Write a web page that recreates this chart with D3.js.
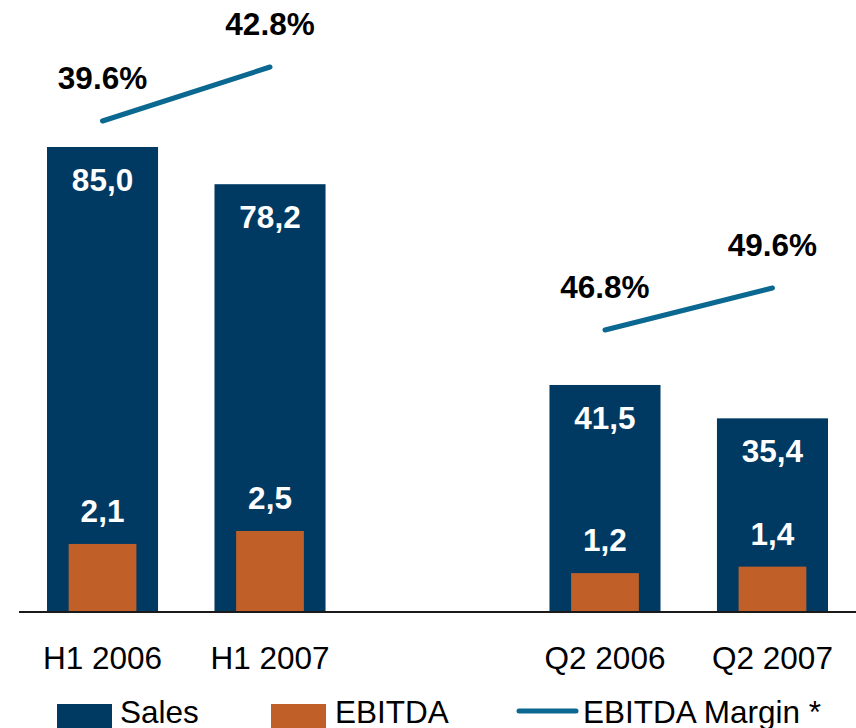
<!DOCTYPE html>
<html>
<head>
<meta charset="utf-8">
<script src="https://cdn.jsdelivr.net/npm/d3@7"></script>
<style>
  body { margin: 0; background: #fff; }
  svg { display: block; font-family: "Liberation Sans", Arial, sans-serif; }
</style>
</head>
<body>
<svg id="chart"></svg>
<script>
// Data
const categories = ["H1 2006", "H1 2007", "Q2 2006", "Q2 2007"];
const groups = ["H1", "H1", "Q2", "Q2"];
const sales = [85.0, 78.2, 41.5, 35.4];
const ebitda = [2.1, 2.5, 1.2, 1.4];
const margin = [39.6, 42.8, 46.8, 49.6];
const legendLabels = ["Sales", "EBITDA", "EBITDA Margin *"];

const width = 856;
const height = 728;
const base = 612;
const navy = "#003a62", orange = "#c05f28", teal = "#0b6890";

const fmt = v => d3.format(".1f")(v).replace(".", ",");

const data = categories.map((c, i) => ({
    cat: c, group: groups[i], sales: sales[i], ebitda: ebitda[i], margin: margin[i]
}));

// one empty slot between the half-year and the quarter
const slots = [categories[0], categories[1], "gap", categories[2], categories[3]];
const x = d3.scaleBand()
    .domain(slots)
    .range([47, 828])
    .paddingInner(0.337)
    .paddingOuter(0);

const ySales = d3.scaleLinear().domain([0, 85]).range([base, 147]);
const yEbitda = d3.scaleLinear().domain([0, 2.5]).range([base, 531]);
// each group has its own margin line
const yMargin = {
    H1: d3.scaleLinear().domain([39.6, 42.8]).range([121, 67]),
    Q2: d3.scaleLinear().domain([46.8, 49.6]).range([330, 288])
};

const svg = d3.select("#chart")
    .attr("width", width)
    .attr("height", height)
    .attr("viewBox", [0, 0, width, height]);

const bw = x.bandwidth();
const ew = bw * 0.61;
const cx = d => x(d.cat) + bw / 2;

// sales bars
svg.append("g")
    .selectAll("rect")
    .data(data)
    .join("rect")
    .attr("x", d => x(d.cat))
    .attr("y", d => ySales(d.sales))
    .attr("width", bw)
    .attr("height", d => base - ySales(d.sales))
    .attr("fill", navy);

// ebitda bars
svg.append("g")
    .selectAll("rect")
    .data(data)
    .join("rect")
    .attr("x", d => cx(d) - ew / 2)
    .attr("y", d => yEbitda(d.ebitda))
    .attr("width", ew)
    .attr("height", d => base - yEbitda(d.ebitda))
    .attr("fill", orange);

// value labels
const labels = svg.append("g")
    .attr("font-size", 31.5)
    .attr("font-weight", "bold")
    .attr("text-anchor", "middle");

labels.selectAll(".sales")
    .data(data)
    .join("text")
    .attr("x", cx)
    .attr("y", d => ySales(d.sales) + 44)
    .attr("fill", "#fff")
    .text(d => fmt(d.sales));

labels.selectAll(".ebitda")
    .data(data)
    .join("text")
    .attr("x", cx)
    .attr("y", d => yEbitda(d.ebitda) - 22)
    .attr("fill", "#fff")
    .text(d => fmt(d.ebitda));

// margin lines
const line = d3.line()
    .x(cx)
    .y(d => yMargin[d.group](d.margin));

svg.append("g")
    .selectAll("path")
    .data(d3.groups(data, d => d.group))
    .join("path")
    .attr("d", ([, v]) => line(v))
    .attr("fill", "none")
    .attr("stroke", teal)
    .attr("stroke-width", 5)
    .attr("stroke-linecap", "round");

labels.selectAll(".margin")
    .data(data)
    .join("text")
    .attr("x", cx)
    .attr("y", d => yMargin[d.group](d.margin) - 32)
    .attr("fill", "#000")
    .text(d => d.margin.toFixed(1) + "%");

// baseline
svg.append("line")
    .attr("x1", 19)
    .attr("x2", width)
    .attr("y1", base)
    .attr("y2", base)
    .attr("stroke", "#1a1a1a")
    .attr("stroke-width", 2);

// category axis
const xAxis = g => g
    .attr("transform", `translate(0,${base})`)
    .call(d3.axisBottom(x).tickValues(categories).tickSize(0).tickPadding(0))
    .call(g => g.select(".domain").remove())
    .call(g => g.selectAll("text")
        .attr("dy", 0)
        .attr("y", 57)
        .attr("font-size", 31.5)
        .attr("font-family", "Liberation Sans, Arial, sans-serif")
        .attr("fill", "#000"));

svg.append("g").call(xAxis);

// legend
const legend = svg.append("g").attr("font-size", 31.5).attr("fill", "#000");
legend.append("rect").attr("x", 57).attr("y", 704).attr("width", 55).attr("height", 30).attr("fill", navy);
legend.append("text").attr("x", 120).attr("y", 723).text(legendLabels[0]);
legend.append("rect").attr("x", 271).attr("y", 704).attr("width", 55).attr("height", 30).attr("fill", orange);
legend.append("text").attr("x", 335).attr("y", 723).text(legendLabels[1]);
legend.append("line")
    .attr("x1", 519).attr("x2", 576).attr("y1", 711).attr("y2", 711)
    .attr("stroke", teal).attr("stroke-width", 5).attr("stroke-linecap", "round");
legend.append("text").attr("x", 583).attr("y", 723).text(legendLabels[2]);
</script>
</body>
</html>
